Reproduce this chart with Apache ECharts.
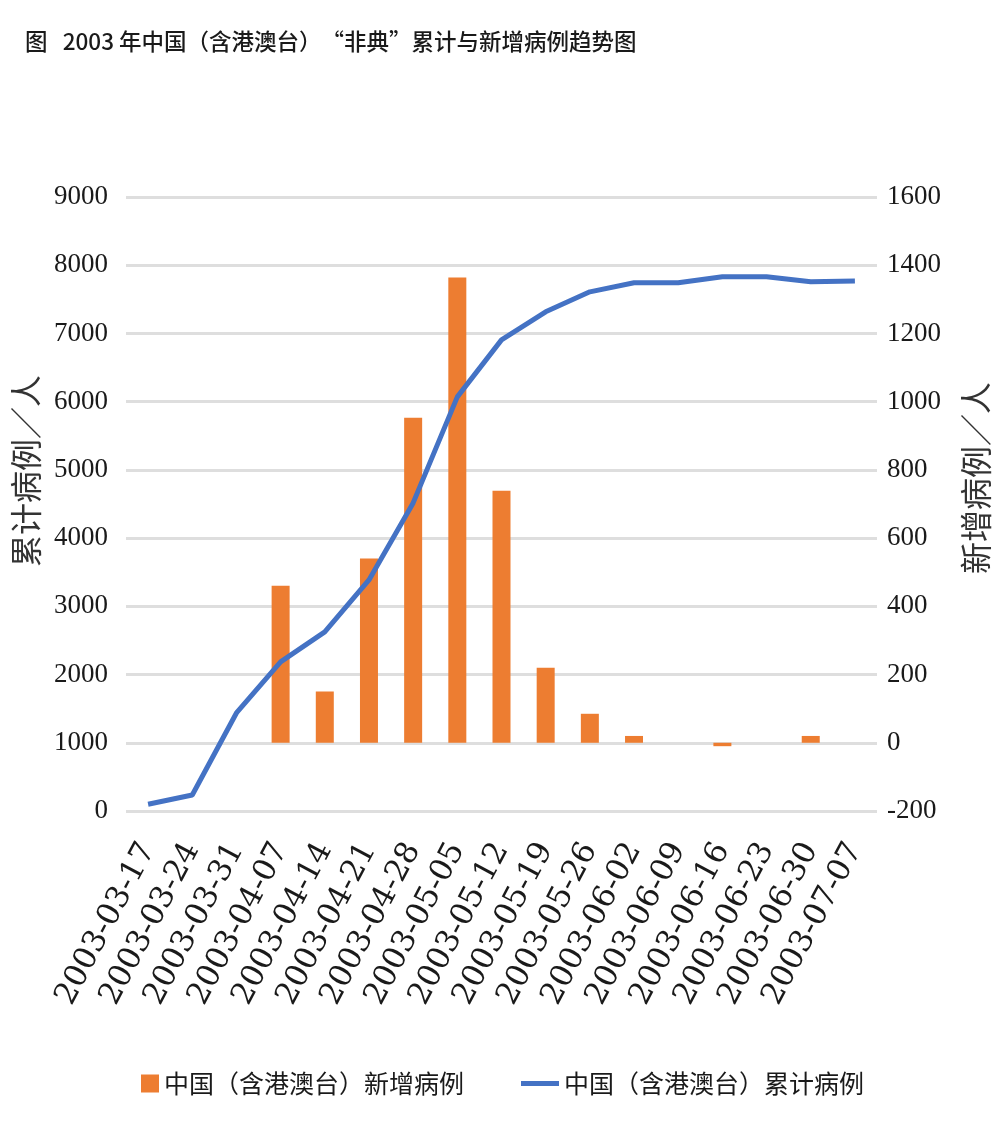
<!DOCTYPE html>
<html>
<head>
<meta charset="utf-8">
<script src="https://cdn.jsdelivr.net/npm/echarts@6/dist/echarts.min.js"></script>
<style>
html,body{margin:0;padding:0;background:#fff;}
#chart{width:1000px;height:1145px;}
</style>
</head>
<body>
<div id="chart"></div>
<script>
const titleText = '图   2003 年中国（含港澳台）“非典”累计与新增病例趋势图';
const categories = ['2003-03-17','2003-03-24','2003-03-31','2003-04-07','2003-04-14','2003-04-21','2003-04-28','2003-05-05','2003-05-12','2003-05-19','2003-05-26','2003-06-02','2003-06-09','2003-06-16','2003-06-23','2003-06-30','2003-07-07'];
const newCasesName = '中国（含港澳台）新增病例';
const totalCasesName = '中国（含港澳台）累计病例';
const newCases = [0, 0, 0, 460, 150, 540, 953, 1364, 739, 220, 85, 20, 0, -10, 0, 20, 0];
const totalCases = [100, 235, 1437, 2185, 2625, 3387, 4516, 6070, 6906, 7317, 7610, 7742, 7742, 7830, 7830, 7757, 7770];
const leftAxisName = '累计病例／人';
const rightAxisName = '新增病例／人';

const chart = echarts.init(document.getElementById('chart'));
const serif = '"Liberation Serif", "DejaVu Serif", serif';
const cjk = '"Noto Sans CJK SC", sans-serif';
chart.setOption({
  animation: false,
  backgroundColor: '#fff',
  title: {
    text: titleText,
    left: 20, top: 25,
    textStyle: { fontFamily: cjk, fontSize: 22.5, fontWeight: 500, color: '#1a1a1a' }
  },
  grid: { left: 126, right: 112, top: 197, bottom: 334, containLabel: false },
  legend: [
    {
      data: [{ name: newCasesName, icon: 'rect' }],
      left: 136, top: 1066,
      itemWidth: 18, itemHeight: 18,
      textStyle: { fontFamily: cjk, fontSize: 25, color: '#1a1a1a' }
    },
    {
      data: [{ name: totalCasesName, icon: 'rect' }],
      left: 516, top: 1066,
      itemWidth: 38, itemHeight: 5,
      textStyle: { fontFamily: cjk, fontSize: 25, color: '#1a1a1a' }
    }
  ],
  xAxis: {
    type: 'category',
    data: categories,
    boundaryGap: true,
    axisLine: { show: false },
    axisTick: { show: false },
    axisLabel: {
      interval: 0, rotate: 62, margin: 34,
      fontFamily: '"DejaVu Serif", serif', fontSize: 31, color: '#1a1a1a'
    }
  },
  yAxis: [
    {
      type: 'value', min: 0, max: 9000, interval: 1000,
      name: leftAxisName, nameLocation: 'middle', nameRotate: 90, nameGap: 84,
      nameTextStyle: { fontFamily: cjk, fontSize: 32, color: '#333', padding: [0, 0, 0, 66] },
      axisLine: { show: false }, axisTick: { show: false },
      axisLabel: { margin: 18, fontFamily: serif, fontSize: 27, color: '#1a1a1a', formatter: v => String(v) },
      splitLine: { show: true, lineStyle: { color: '#dedede', width: 3 } }
    },
    {
      type: 'value', min: -200, max: 1600, interval: 200,
      name: rightAxisName, nameLocation: 'middle', nameRotate: 90, nameGap: 83,
      nameTextStyle: { fontFamily: cjk, fontSize: 32, color: '#333', padding: [0, 0, 0, 52] },
      axisLine: { show: false }, axisTick: { show: false },
      axisLabel: { margin: 10, fontFamily: serif, fontSize: 27, color: '#1a1a1a', formatter: v => String(v) },
      splitLine: { show: false }
    }
  ],
  series: [
    {
      name: newCasesName, type: 'bar', yAxisIndex: 1,
      data: newCases, barWidth: 18,
      itemStyle: { color: '#ED7D31' }
    },
    {
      name: totalCasesName, type: 'line', yAxisIndex: 0,
      data: totalCases, symbol: 'none', smooth: false,
      lineStyle: { color: '#4472C4', width: 5 },
      itemStyle: { color: '#4472C4' }
    }
  ]
});
</script>
</body>
</html>
